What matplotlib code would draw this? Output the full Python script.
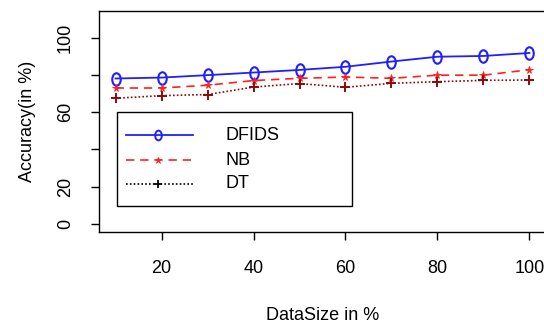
import matplotlib
matplotlib.use("Agg")
import matplotlib.pyplot as plt
from matplotlib.markers import MarkerStyle
from matplotlib.patches import Rectangle
from matplotlib.transforms import Affine2D

plt.rcParams["font.family"] = ["Liberation Sans", "DejaVu Sans"]

data_size = [10, 20, 30, 40, 50, 60, 70, 80, 90, 100]
dfids = [78.0, 78.5, 79.8, 81.2, 82.6, 84.3, 87.1, 89.7, 90.1, 91.7]
nb = [72.9, 72.9, 74.4, 76.9, 78.1, 78.8, 78.1, 79.8, 79.8, 82.7]
dt = [67.4, 68.8, 69.4, 73.4, 75.3, 73.3, 75.4, 76.3, 77.0, 77.2]
series_names = ["DFIDS", "NB", "DT"]
x_ticks = [20, 40, 60, 80, 100]
y_ticks = [0, 20, 40, 60, 80, 100]
y_ticklabels = ["0", "20", "", "60", "", "100"]

W, H = 544, 330
fig = plt.figure(figsize=(W / 100, H / 100), dpi=100)
ax = fig.add_axes([99 / W, (H - 232) / H, 447 / W, 221.3 / H])

# tall open "0"-like marker as in the R plot
oval = MarkerStyle("o", fillstyle="none", transform=Affine2D().scale(0.68, 1.0))

ax.plot(data_size, dfids, color="#1f1fff", lw=1.3, marker=oval, ms=9, mew=1.5)
ax.plot(data_size, nb, color="#ff2020", lw=1.2, ls=(0, (5, 3.5)), marker="*", ms=5.5, mew=0.6)
ax.plot(data_size, dt, color="#8b0a0a", lw=1.2, ls=(0, (1, 1.3)), marker="+", ms=7.5, mew=1.4)

ax.set_xlim(6.4, 103.6)
ax.set_ylim(-4.4, 114.4)
ax.set_xticks(x_ticks)
ax.set_yticks(y_ticks)
ax.set_yticklabels(y_ticklabels, rotation=90, va="center")
ax.tick_params(direction="out", length=6, width=1, labelsize=13)
ax.tick_params(axis="x", pad=14)
ax.tick_params(axis="y", pad=12)
for s in ax.spines.values():
    s.set_linewidth(1.0)

ax.set_xlabel("DataSize in %", fontsize=13, labelpad=22)
ax.set_ylabel("Accuracy(in %)", fontsize=13, labelpad=15)

# R style legend box
tr = ax.transAxes
ax.add_patch(Rectangle((0.040, 0.117), 0.525, 0.425, transform=tr,
                       fill=False, edgecolor="black", lw=1.0))
rows = [0.437, 0.324, 0.219]
styles = [
    dict(color="#1f1fff", lw=1.3, ls="-", marker=oval, ms=7, mew=1.4),
    dict(color="#ff2020", lw=1.2, ls=(0, (5, 3.5)), marker="*", ms=4.5, mew=0.5),
    dict(color="black", lw=1.2, ls=(0, (1, 1.3)), marker="+", ms=6, mew=1.3),
]
for name, yy, st in zip(series_names, rows, styles):
    ax.plot([0.060, 0.210], [yy, yy], transform=tr, markevery=[], **st)
    ax.plot([0.132], [yy], transform=tr, ls="none",
            **{k: v for k, v in st.items() if k not in ("ls", "lw")})
    ax.text(0.282, yy, name, transform=tr, fontsize=13, va="center", ha="left")

fig.savefig("out.png", dpi=100)
